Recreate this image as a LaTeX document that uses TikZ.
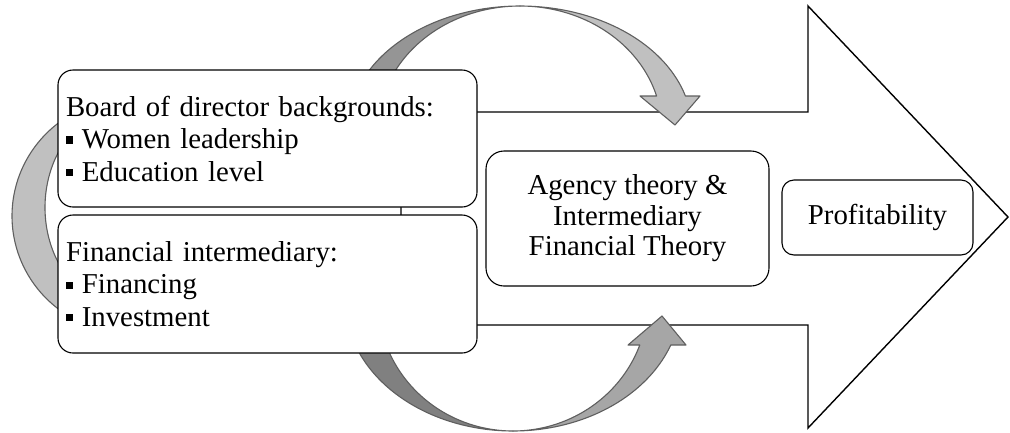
\documentclass[tikz,border=0pt]{standalone}
\usepackage{fontspec}
\setmainfont{Liberation Serif}
\definecolor{edgegray}{HTML}{5F5F5F}
\definecolor{topdark}{HTML}{959595}
\definecolor{toplight}{HTML}{C0C0C0}
\definecolor{botdark}{HTML}{808080}
\definecolor{botlight}{HTML}{A6A6A6}
\definecolor{leftarc}{HTML}{C0C0C0}
\newcommand{\sqbullet}{\raisebox{0.17em}{\rule{0.25em}{0.25em}}\hspace{0.3em}}
\newcommand{\bodyfont}{\fontsize{28.8}{32.5}\selectfont}
\newcommand{\midfont}{\fontsize{28.8}{30.5}\selectfont}
\tikzset{
  box/.style={draw=black, line width=1.1pt, fill=white, rounded corners=15pt, inner ysep=0pt},
  bigarrow/.style={draw=black, line width=1.4pt, fill=white, line join=miter},
  ribbon/.style={draw=edgegray, line width=1.1pt, line join=round},
}
\begin{document}
\begin{tikzpicture}[x=1pt, y=-1pt]
\useasboundingbox (0,0) rectangle (1010,432);

% big arrow
\draw[bigarrow] (401,112) -- (808,112) -- (808,6) -- (1008,217) -- (808,428) -- (808,325) -- (401,325) -- cycle;

% left crescent
\filldraw[ribbon, fill=leftarc] plot[domain=124:236, samples=80] ({130+118*cos(\x)},{216+117*sin(\x)})
  -- plot[domain=216:144, samples=80] ({130+85*cos(\x)},{207.5+102.5*sin(\x)}) -- cycle;

% top curved arrow
\filldraw[ribbon, fill=toplight] plot[domain=90:15.9, samples=80] ({520+172*cos(\x)},{130-124*sin(\x)})
  -- (700,96) -- (675,125) -- (640,96)
  -- plot[domain=15.9:90, samples=80] ({520+142*cos(\x)},{130-124*sin(\x)}) -- cycle;
\filldraw[ribbon, fill=topdark] plot[domain=90:172, samples=80] ({520+172*cos(\x)},{130-124*sin(\x)})
  -- plot[domain=172:90, samples=80] ({520+142*cos(\x)},{130-124*sin(\x)}) -- cycle;

% bottom curved arrow
\filldraw[ribbon, fill=botlight] plot[domain=90:20.1, samples=80] ({513+168*cos(\x)},{300+131*sin(\x)})
  -- (686,345) -- (662,316) -- (628,345)
  -- plot[domain=20.1:90, samples=80] ({513+135*cos(\x)},{300+131*sin(\x)}) -- cycle;
\filldraw[ribbon, fill=botdark] plot[domain=90:190, samples=80] ({513+168*cos(\x)},{300+131*sin(\x)})
  -- plot[domain=190:90, samples=80] ({513+135*cos(\x)},{300+131*sin(\x)}) -- cycle;

% boxes
\node[box, text width=403pt, inner xsep=8pt, minimum height=137pt, align=left, font=\bodyfont] (board) at (267.5,138.5)
  {Board of director backgrounds:\\ \sqbullet Women leadership\\ \sqbullet Education level};
\node[box, text width=403pt, inner xsep=8pt, minimum height=138pt, align=left, font=\bodyfont] (finance) at (267.5,284)
  {Financial intermediary:\\ \sqbullet Financing\\ \sqbullet Investment};
\node[box, rounded corners=18pt, minimum width=283pt, minimum height=135pt, align=center, font=\midfont] (theory) at (627.5,218.5)
  {Agency theory \&\\ Intermediary\\ Financial Theory};
\node[box, rounded corners=12pt, minimum width=191pt, minimum height=75pt, font=\bodyfont] (profit) at (877.5,217.5)
  {Profitability};
\end{tikzpicture}
\end{document}
